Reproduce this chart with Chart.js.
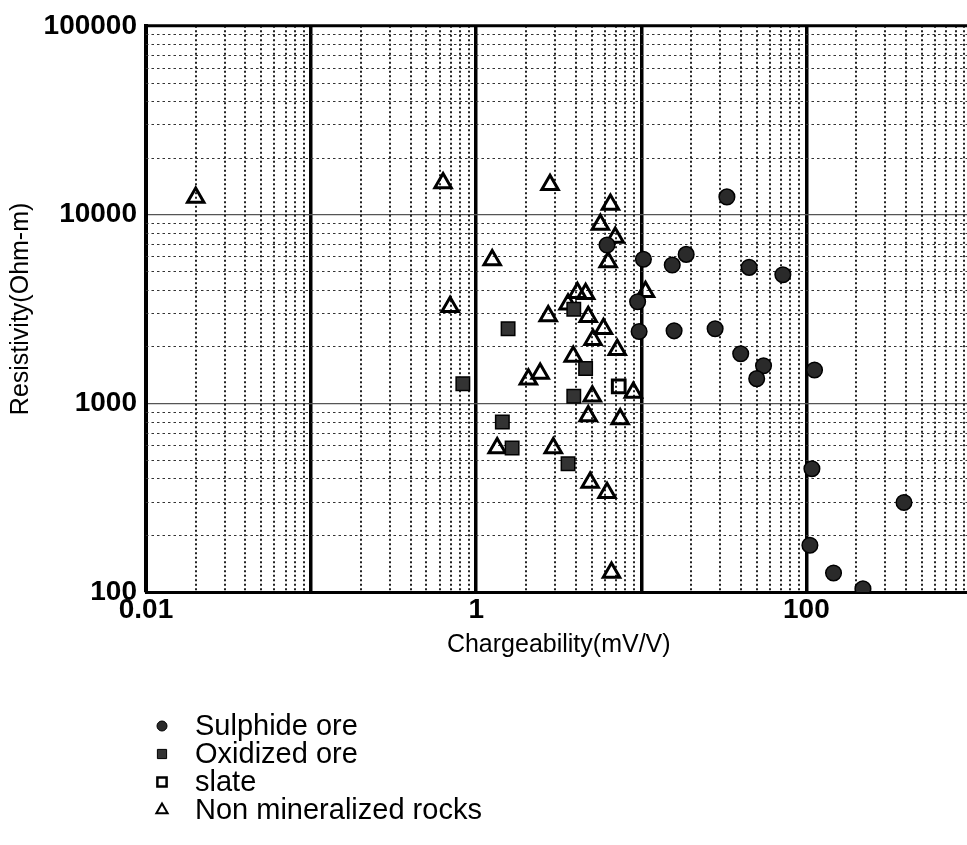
<!DOCTYPE html>
<html>
<head>
<meta charset="utf-8">
<script src="https://cdn.jsdelivr.net/npm/chart.js@4/dist/chart.umd.min.js"></script>
<style>
    html, body { margin: 0; padding: 0; background: #fff; overflow: hidden; }
    #wrap { width: 984px; height: 845px; }
</style>
</head>
<body>
<div id="wrap"><canvas id="ipChart" width="984" height="845"></canvas></div>
<script>
// chargeability (mV/V) against resistivity (Ohm-m)
const sulphideCharge = [33, 6.2, 10.3, 15.4, 18.7, 45, 72, 9.5, 9.7, 15.8, 28, 40, 55, 50, 112, 108, 390, 105, 146, 220];
const sulphideRes = [12400, 6900, 5800, 5400, 6150, 5250, 4800, 3450, 2400, 2420, 2480, 1830, 1580, 1350, 1500, 450, 298, 177, 126, 104];

const oxidizedCharge = [1.56, 0.83, 4.6, 3.9, 1.44, 1.65, 3.6, 3.9];
const oxidizedRes = [2480, 1270, 1530, 1090, 795, 580, 478, 3150];

const slateCharge = [7.3];
const slateRes = [1230];

const rockCharge = [0.02, 0.63, 2.8, 6.5, 5.65, 6.95, 6.3, 1.25, 10.6, 0.695, 4.1, 4.6, 3.6, 4.77, 2.73,
    5.9, 5.1, 7.15, 3.87, 2.07, 2.44, 5.05, 8.95, 4.77, 7.45, 1.34, 2.93, 4.9, 6.2, 6.6];
const rockRes = [12300, 14700, 14400, 11300, 8850, 7550, 5600, 5750, 3900, 3250, 3850, 3800, 3350, 2870, 2900,
    2480, 2170, 1920, 1770, 1340, 1440, 1090, 1140, 855, 825, 580, 580, 380, 336, 127];

const seriesNames = ['Sulphide ore', 'Oxidized ore', 'slate', 'Non mineralized rocks'];

// the 1000 line sits just past the right edge of the scan
const xDecades = [0.01, 0.1, 1, 10, 100, 1000];
const yDecades = [100, 1000, 10000, 100000];
const xTickLabels = ['0.01', '1', '100'];
const yTickLabels = ['100', '1000', '10000', '100000'];

const FONT = "'Liberation Sans', Arial, Helvetica, sans-serif";
Chart.defaults.font.family = FONT;
Chart.defaults.color = '#000';

const toPoints = function (xs, ys) {
    return xs.map(function (x, i) {
        return { x: x, y: ys[i] };
    });
}

// 1..9 of every decade, like log paper
const paperTicks = function (decades) {
    const ticks = [];
    decades.forEach(function (d, i) {
        if (i === decades.length - 1) {
            ticks.push({ value: d });
            return;
        }
        for (let m = 1; m < 10; m++) {
            ticks.push({ value: +(d * m).toPrecision(3) });
        }
    });
    return ticks;
}

const isDecade = function (v) {
    const l = Math.log10(v);
    return Math.abs(l - Math.round(l)) < 1e-6;
}

const paperGrid = {
    id: 'paperGrid',
    beforeDatasetsDraw(chart) {
        const { ctx, chartArea: a, scales: { x, y } } = chart;
        ctx.save();
        ctx.beginPath();
        ctx.rect(a.left, a.top, a.right - a.left, a.bottom - a.top);
        ctx.clip();

        ctx.strokeStyle = '#222';
        ctx.lineWidth = 2;
        ctx.setLineDash([2, 2.5]);
        x.ticks.forEach(function (t) {
            if (isDecade(t.value)) return;
            const px = Math.round(x.getPixelForValue(t.value));
            ctx.beginPath();
            ctx.moveTo(px, a.top);
            ctx.lineTo(px, a.bottom);
            ctx.stroke();
        });

        ctx.strokeStyle = '#333';
        ctx.lineWidth = 1.2;
        ctx.setLineDash([2.5, 3]);
        y.ticks.forEach(function (t) {
            if (isDecade(t.value)) return;
            const py = Math.round(y.getPixelForValue(t.value)) + 0.5;
            ctx.beginPath();
            ctx.moveTo(a.left, py);
            ctx.lineTo(a.right, py);
            ctx.stroke();
        });
        ctx.restore();

        ctx.save();
        ctx.strokeStyle = '#000';
        ctx.lineWidth = 3;
        ctx.beginPath();
        ctx.moveTo(a.left - 2, a.top);
        ctx.lineTo(a.right, a.top);
        ctx.stroke();
        ctx.restore();
    }
};

// legend as a plain stacked list under the axis title
const stackedLegend = {
    id: 'stackedLegend',
    afterDraw(chart) {
        const ctx = chart.ctx;
        const top = chart.scales.x.bottom + 62;
        ctx.save();
        ctx.font = '29px ' + FONT;
        ctx.textBaseline = 'middle';
        chart.data.datasets.forEach(function (ds, i) {
            const yy = top + i * 28;
            ctx.fillStyle = ds.backgroundColor;
            ctx.strokeStyle = ds.borderColor;
            ctx.lineWidth = ds.legendBorder;
            Chart.helpers.drawPoint(ctx, {
                pointStyle: ds.pointStyle,
                radius: ds.legendRadius,
                rotation: 0,
                borderWidth: ds.legendBorder
            }, 162, yy);
            ctx.fillStyle = '#000';
            ctx.fillText(ds.label, 195, yy + 1);
        });
        ctx.restore();
    }
};

const doDataset = function (label, xs, ys, style) {
    return Object.assign({
        label: label,
        data: toPoints(xs, ys),
        showLine: false,
        pointHoverRadius: style.pointRadius
    }, style);
}

const datasets = [
    doDataset(seriesNames[0], sulphideCharge, sulphideRes, {
        pointStyle: 'circle', pointRadius: 7.8, backgroundColor: '#2a2a2a', borderColor: '#000',
        borderWidth: 1.5, legendRadius: 5, legendBorder: 1
    }),
    doDataset(seriesNames[1], oxidizedCharge, oxidizedRes, {
        pointStyle: 'rect', pointRadius: 9.5, backgroundColor: '#333', borderColor: '#000',
        borderWidth: 1.5, legendRadius: 6.5, legendBorder: 1
    }),
    doDataset(seriesNames[2], slateCharge, slateRes, {
        pointStyle: 'rect', pointRadius: 9, backgroundColor: 'rgba(255,255,255,0)', borderColor: '#000',
        borderWidth: 3, legendRadius: 6.5, legendBorder: 2.5
    }),
    doDataset(seriesNames[3], rockCharge, rockRes, {
        pointStyle: 'triangle', pointRadius: 9.5, backgroundColor: 'rgba(255,255,255,0)', borderColor: '#000',
        borderWidth: 3, legendRadius: 6.5, legendBorder: 2
    })
];

new Chart(document.getElementById('ipChart'), {
    type: 'scatter',
    data: { datasets: datasets },
    options: {
        responsive: false,
        animation: false,
        layout: { padding: { top: 22, right: 0, bottom: 181, left: 0 } },
        plugins: {
            legend: { display: false },
            tooltip: { enabled: false }
        },
        scales: {
            x: {
                type: 'logarithmic',
                min: 0.01,
                max: 1000,
                afterBuildTicks: function (scale) { scale.ticks = paperTicks(xDecades); },
                afterFit: function (scale) { scale.height = 72; },
                ticks: {
                    autoSkip: false,
                    maxRotation: 0,
                    padding: 1,
                    font: { size: 28, weight: 'bold' },
                    callback: function (value) {
                        const s = String(value);
                        return xTickLabels.includes(s) ? s : '';
                    }
                },
                grid: {
                    drawTicks: false,
                    color: function (c) { return c.tick && isDecade(c.tick.value) ? '#000' : 'rgba(0,0,0,0)'; },
                    lineWidth: function (c) { return c.tick && isDecade(c.tick.value) ? 3.5 : 0; }
                },
                border: { display: true, color: '#000', width: 3 },
                title: {
                    display: true,
                    text: 'Chargeability(mV/V)',
                    font: { size: 25 },
                    padding: { top: 4, bottom: 4 }
                }
            },
            y: {
                type: 'logarithmic',
                min: 100,
                max: 100000,
                afterBuildTicks: function (scale) { scale.ticks = paperTicks(yDecades); },
                afterFit: function (scale) { scale.width = 146; },
                ticks: {
                    autoSkip: false,
                    padding: 9,
                    font: { size: 28, weight: 'bold' },
                    callback: function (value) {
                        const s = String(value);
                        return yTickLabels.includes(s) ? s : '';
                    }
                },
                grid: {
                    drawTicks: false,
                    color: function (c) { return c.tick && isDecade(c.tick.value) ? '#555' : 'rgba(0,0,0,0)'; },
                    lineWidth: function (c) { return c.tick && isDecade(c.tick.value) ? 1.2 : 0; }
                },
                border: { display: true, color: '#000', width: 4 },
                title: {
                    display: true,
                    text: 'Resistivity(Ohm-m)',
                    font: { size: 25 },
                    padding: { top: 6, bottom: 4 }
                }
            }
        }
    },
    plugins: [paperGrid, stackedLegend]
});
</script>
</body>
</html>
